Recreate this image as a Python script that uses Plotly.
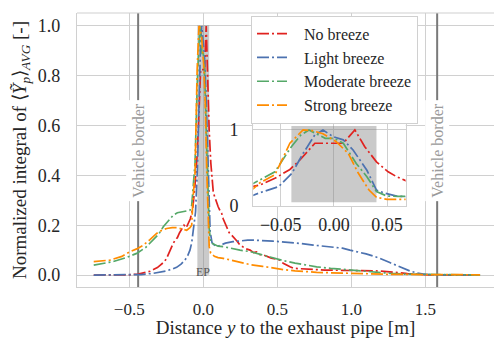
import plotly.graph_objects as go

# Lateral distance y [m] and normalised integral values for each breeze case
x_no = [-0.74, -0.60, -0.50, -0.44, -0.40, -0.36, -0.33, -0.31, -0.29, -0.27, -0.25, -0.235, -0.22,
        -0.205, -0.19, -0.175, -0.16, -0.145, -0.13, -0.115, -0.10, -0.088, -0.078, -0.0695, -0.0555,
        -0.0414, -0.032, -0.0179, -0.0038, 0.0088, 0.0197, 0.029, 0.040, 0.051, 0.059, 0.068, 0.08,
        0.09, 0.10, 0.112, 0.124, 0.135, 0.147, 0.16, 0.175, 0.192, 0.21, 0.23, 0.248, 0.27, 0.29,
        0.316, 0.34, 0.36, 0.383, 0.41, 0.43, 0.46, 0.49, 0.518, 0.54, 0.56, 0.586, 0.61, 0.65, 0.70,
        0.76, 0.82, 0.88, 0.95, 1.02, 1.08, 1.15, 1.22, 1.28, 1.33, 1.38, 1.44, 1.52, 1.65, 1.87]
y_no = [0.0, 0.0, 0.001, 0.004, 0.009, 0.015, 0.024, 0.03, 0.04, 0.05, 0.064, 0.085, 0.11, 0.125,
        0.14, 0.15, 0.17, 0.185, 0.2, 0.19, 0.207, 0.225, 0.248, 0.276, 0.364, 0.48, 0.605, 0.825,
        0.825, 0.825, 1.0, 0.78, 0.58, 0.45, 0.385, 0.33, 0.31, 0.288, 0.275, 0.26, 0.248, 0.225,
        0.207, 0.19, 0.17, 0.16, 0.15, 0.135, 0.12, 0.112, 0.105, 0.10, 0.09, 0.093, 0.082, 0.08,
        0.075, 0.068, 0.064, 0.06, 0.047, 0.04, 0.033, 0.027, 0.025, 0.023, 0.022, 0.02, 0.02, 0.018,
        0.017, 0.018, 0.017, 0.015, 0.013, 0.009, 0.006, 0.003, 0.001, 0.0, 0.0]

x_light = [-0.74, -0.60, -0.495, -0.42, -0.338, -0.29, -0.247, -0.21, -0.18, -0.15, -0.124, -0.105,
           -0.09, -0.078, -0.0695, -0.052, -0.0395, -0.029, -0.018, -0.0103, -0.0006, 0.0088, 0.018,
           0.031, 0.040, 0.0464, 0.059, 0.075, 0.095, 0.113, 0.15, 0.2, 0.248, 0.30, 0.338, 0.40,
           0.47, 0.518, 0.60, 0.653, 0.743, 0.82, 0.878, 0.94, 0.99, 1.04, 1.10, 1.15, 1.194, 1.26,
           1.329, 1.397, 1.44, 1.487, 1.55, 1.70, 1.87]
y_light = [0.0, 0.0, 0.0, 0.002, 0.007, 0.011, 0.017, 0.024, 0.031, 0.044, 0.06, 0.078, 0.1, 0.13,
           0.175, 0.254, 0.43, 0.69, 0.934, 1.0, 0.91, 0.87, 0.737, 0.47, 0.21, 0.175, 0.13, 0.12,
           0.115, 0.12, 0.128, 0.134, 0.138, 0.14, 0.14, 0.139, 0.136, 0.134, 0.13, 0.127, 0.12,
           0.116, 0.114, 0.108, 0.1, 0.094, 0.085, 0.076, 0.067, 0.05, 0.033, 0.016, 0.009, 0.004,
           0.001, 0.0, 0.0]

x_moderate = [-0.74, -0.608, -0.52, -0.45, -0.39, -0.338, -0.30, -0.27, -0.235, -0.203, -0.175,
              -0.146, -0.118, -0.09, -0.078, -0.0695, -0.0555, -0.04, -0.031, -0.0235, -0.0144,
              -0.0082, 0.0, 0.0088, 0.021, 0.031, 0.040, 0.05, 0.06, 0.08, 0.1, 0.135, 0.2, 0.248,
              0.316, 0.40, 0.473, 0.54, 0.62, 0.70, 0.766, 0.86, 0.99, 1.036, 1.12, 1.2, 1.26, 1.35,
              1.5, 1.87]
y_moderate = [0.04, 0.054, 0.07, 0.087, 0.11, 0.14, 0.165, 0.194, 0.218, 0.24, 0.25, 0.254, 0.257,
              0.26, 0.28, 0.342, 0.45, 0.78, 0.934, 1.0, 0.934, 0.89, 0.89, 0.825, 0.56, 0.385,
              0.19, 0.13, 0.127, 0.12, 0.116, 0.114, 0.105, 0.1, 0.094, 0.08, 0.067, 0.058, 0.048,
              0.04, 0.033, 0.027, 0.02, 0.018, 0.013, 0.009, 0.007, 0.004, 0.002, 0.0]

x_strong = [-0.74, -0.63, -0.55, -0.495, -0.45, -0.405, -0.36, -0.315, -0.28, -0.247, -0.21, -0.18,
            -0.145, -0.112, -0.09, -0.078, -0.0695, -0.0555, -0.0414, -0.029, -0.0204, -0.0103,
            0.0022, 0.0135, 0.023, 0.033, 0.040, 0.05, 0.059, 0.075, 0.1, 0.135, 0.2, 0.248, 0.316,
            0.40, 0.473, 0.54, 0.62, 0.7, 0.766, 0.86, 0.99, 1.1, 1.25, 1.5, 1.87]
y_strong = [0.054, 0.06, 0.075, 0.094, 0.105, 0.12, 0.142, 0.167, 0.18, 0.187, 0.19, 0.19, 0.185,
            0.18, 0.19, 0.2, 0.307, 0.41, 0.825, 1.0, 0.99, 0.95, 0.846, 0.69, 0.43, 0.21, 0.114,
            0.088, 0.085, 0.075, 0.07, 0.067, 0.057, 0.05, 0.042, 0.035, 0.027, 0.022, 0.017, 0.013,
            0.011, 0.009, 0.007, 0.005, 0.003, 0.002, 0.001]

series_names = ["No breeze", "Light breeze", "Moderate breeze", "Strong breeze"]
series_x = [x_no, x_light, x_moderate, x_strong]
series_y = [y_no, y_light, y_moderate, y_strong]
series_colors = ["#e0221f", "#4c72b0", "#55a868", "#ff8c00"]

vehicle_borders = [-0.44, 1.58]
ep_half_width = 0.04

x_ticks = [-0.5, 0.0, 0.5, 1.0, 1.5]
x_ticktext = ["\u22120.5", "0.0", "0.5", "1.0", "1.5"]
y_ticks = [0.0, 0.2, 0.4, 0.6, 0.8, 1.0]
y_ticktext = ["0.0", "0.2", "0.4", "0.6", "0.8", "1.0"]
inset_x_ticks = [-0.05, 0.0, 0.05]
inset_x_ticktext = ["\u22120.05", "0.00", "0.05"]
inset_y_ticks = [0, 1]
inset_y_ticktext = ["0", "1"]

X_RANGE = [-0.853, 1.964]
Y_RANGE = [-0.048, 1.052]
INSET_X_RANGE = [-0.0758, 0.0674]
INSET_Y_RANGE = [0.0, 1.1]

FONT = "Liberation Serif"
TEXT = "#262626"
GRID = "#d0d0d0"
DASH = "12px,3px,2px,3px"
NBSP = "\u00a0"

fig = go.Figure()

for name, xs, ys, c in zip(series_names, series_x, series_y, series_colors):
    fig.add_trace(go.Scatter(x=xs, y=ys, mode="lines", name=NBSP * 3 + name, legendgroup=name,
                             line=dict(color=c, width=1.7, dash=DASH)))
for name, xs, ys, c in zip(series_names, series_x, series_y, series_colors):
    fig.add_trace(go.Scatter(x=xs, y=ys, mode="lines", name=name, legendgroup=name,
                             showlegend=False, xaxis="x2", yaxis="y2",
                             line=dict(color=c, width=1.7, dash=DASH)))


def frac(rng, f):
    return rng[0] + f * (rng[1] - rng[0])


shapes = []
# exhaust-pipe band in the main axes
shapes.append(dict(type="rect", xref="x", yref="y", x0=-ep_half_width, x1=ep_half_width,
                   y0=frac(Y_RANGE, 0.045), y1=frac(Y_RANGE, 0.955),
                   fillcolor="rgba(128,128,128,0.42)", line=dict(width=0), layer="between"))
# vehicle borders
for vb in vehicle_borders:
    shapes.append(dict(type="line", xref="x", yref="y", x0=vb, x1=vb, y0=Y_RANGE[0], y1=Y_RANGE[1],
                       line=dict(color="#7a7a7a", width=2), layer="between"))
# top spine of the main axes
shapes.append(dict(type="line", xref="paper", yref="paper", x0=0, x1=1, y0=1, y1=1,
                   line=dict(color=GRID, width=1.2)))
# inset background and its exhaust-pipe band
shapes.append(dict(type="rect", xref="x2", yref="y2", x0=INSET_X_RANGE[0], x1=INSET_X_RANGE[1],
                   y0=INSET_Y_RANGE[0], y1=INSET_Y_RANGE[1], fillcolor="white",
                   line=dict(width=0), layer="below"))
shapes.append(dict(type="rect", xref="x2", yref="y2", x0=-ep_half_width, x1=ep_half_width,
                   y0=frac(INSET_Y_RANGE, 0.045), y1=frac(INSET_Y_RANGE, 0.955),
                   fillcolor="rgba(128,128,128,0.42)", line=dict(width=0), layer="between"))

annotations = []
for vb in vehicle_borders:
    annotations.append(dict(x=vb, y=0.5, xref="x", yref="y", text="Vehicle border",
                            textangle=-90, showarrow=False, bgcolor="white", borderpad=3,
                            font=dict(family=FONT, size=16, color="#9a9a9a")))
annotations.append(dict(x=0.0, y=0.014, xref="x", yref="y", text="EP", showarrow=False,
                        font=dict(family=FONT, size=12, color="#555555")))

fig.update_layout(
    width=494, height=338,
    margin=dict(l=77, r=0, t=13, b=51),
    paper_bgcolor="white", plot_bgcolor="white",
    font=dict(family=FONT, size=18, color=TEXT),
    shapes=shapes, annotations=annotations,
    xaxis=dict(range=X_RANGE, domain=[0, 1], tickvals=x_ticks, ticktext=x_ticktext,
               showgrid=True, gridcolor=GRID, gridwidth=1, zeroline=False,
               showline=True, linecolor=GRID, linewidth=1.2, ticks="",
               tickfont=dict(family=FONT, size=17), ticklabelstandoff=6,
               title=dict(text="Distance <i>y</i> to the exhaust pipe [m]",
                          font=dict(family=FONT, size=19), standoff=5)),
    yaxis=dict(range=Y_RANGE, domain=[0, 1], tickvals=y_ticks, ticktext=y_ticktext,
               showgrid=True, gridcolor=GRID, gridwidth=1, zeroline=False,
               showline=True, linecolor=GRID, linewidth=1.2, ticks="",
               tickfont=dict(family=FONT, size=18), ticklabelstandoff=12,
               title=dict(text="Normalized integral of \u27e8<i>\u1ef8</i><sub><i>p</i></sub>\u27e9"
                               "<sub><i>AVG</i></sub> [-]",
                          font=dict(family=FONT, size=19), standoff=6)),
    xaxis2=dict(range=INSET_X_RANGE, domain=[0.4228, 0.788], anchor="y2",
                tickvals=inset_x_ticks, ticktext=inset_x_ticktext,
                showgrid=True, gridcolor=GRID, gridwidth=1, zeroline=False,
                showline=True, mirror=True, linecolor=GRID, linewidth=1.2, ticks="",
                tickfont=dict(family=FONT, size=18), ticklabelstandoff=2),
    yaxis2=dict(range=INSET_Y_RANGE, domain=[0.2956, 0.601], anchor="x2",
                tickvals=inset_y_ticks, ticktext=inset_y_ticktext,
                showgrid=True, gridcolor=GRID, gridwidth=1, zeroline=False,
                showline=True, mirror=True, linecolor=GRID, linewidth=1.2, ticks="",
                tickfont=dict(family=FONT, size=18), ticklabelstandoff=10),
    legend=dict(x=0.4173, y=0.99, xanchor="left", yanchor="top",
                bgcolor="white", bordercolor=GRID, borderwidth=1,
                font=dict(family=FONT, size=16, color=TEXT), tracegroupgap=0),
    showlegend=True,
)

fig.write_html("out.html")
